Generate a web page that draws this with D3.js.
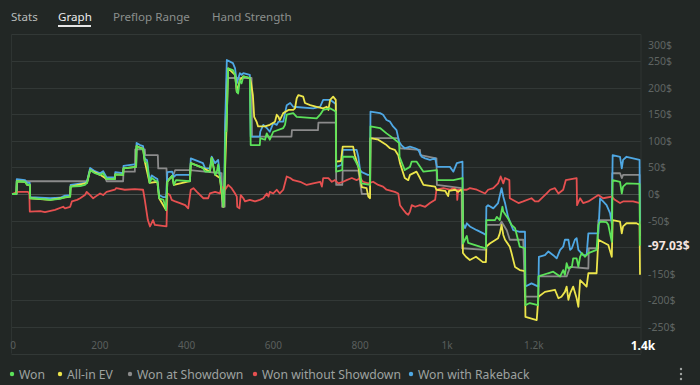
<!DOCTYPE html>
<html>
<head>
<meta charset="utf-8">
<script src="https://cdn.jsdelivr.net/npm/d3@7"></script>
<style>
  html, body { margin: 0; padding: 0; background: #222725; }
  svg { display: block; font-family: "Segoe UI", "Noto Sans", "Liberation Sans", sans-serif; }
</style>
</head>
<body>
<div id="chart"></div>
<script>
// [hand, $] pairs
const wonData = [[0,0],[10,0],[11,24],[30,23],[35,17],[41,17],[42,-8],[65,-9],[88,-11],[111,-9],[122,-6],[134,-5],[135,14],[157,15],[168,17],[173,21],[180,45],[191,39],[203,36],[210,39],[218,28],[237,28],[238,37],[256,36],[257,48],[286,51],[287,90],[295,86],[302,85],[306,61],[311,59],[317,21],[322,30],[329,26],[335,23],[339,-8],[349,-11],[355,-30],[358,23],[369,34],[373,17],[378,26],[410,24],[412,58],[440,49],[445,42],[456,42],[460,68],[468,36],[472,42],[475,55],[479,30],[484,2],[487,-24],[489,0],[492,118],[494,118],[498,236],[509,233],[514,224],[518,192],[521,189],[525,214],[529,208],[533,221],[548,218],[550,92],[571,92],[572,105],[583,102],[587,114],[594,102],[602,117],[625,124],[629,130],[633,149],[648,152],[656,145],[702,142],[710,149],[717,158],[733,161],[740,158],[746,155],[747,42],[761,45],[762,70],[786,70],[790,64],[802,45],[805,20],[825,17],[826,127],[848,124],[863,114],[878,105],[892,96],[893,70],[905,45],[917,51],[921,61],[932,61],[948,42],[979,45],[980,26],[1017,26],[1038,30],[1039,-93],[1048,-79],[1051,-92],[1078,-99],[1092,-102],[1093,-49],[1113,-49],[1117,-43],[1124,-49],[1130,-24],[1132,-33],[1143,-46],[1151,-58],[1159,-64],[1170,-99],[1182,-102],[1183,-209],[1193,-205],[1212,-209],[1213,-155],[1235,-149],[1247,-146],[1263,-155],[1270,-143],[1274,-152],[1278,-130],[1282,-140],[1290,-137],[1293,-121],[1301,-121],[1305,-137],[1309,-118],[1313,-111],[1320,-118],[1328,-111],[1347,-105],[1351,-58],[1355,-52],[1370,-53],[1374,-58],[1382,-90],[1384,26],[1401,23],[1405,1],[1408,14],[1416,20],[1446,19],[1447,-97.03]];

const allInEvData = [[0,0],[10,0],[11,24],[30,23],[35,17],[41,17],[42,-8],[88,-11],[134,-5],[135,14],[173,21],[180,45],[203,36],[218,28],[237,28],[238,37],[256,36],[257,48],[286,51],[287,90],[302,85],[306,61],[317,21],[335,23],[339,-8],[355,-30],[358,23],[369,34],[373,17],[410,24],[412,58],[440,49],[456,42],[460,68],[468,36],[479,30],[487,-24],[489,0],[494,118],[498,236],[514,224],[518,192],[525,214],[533,221],[548,218],[551,208],[555,186],[558,145],[564,135],[567,127],[583,127],[594,130],[606,136],[610,149],[614,145],[617,139],[625,152],[637,158],[648,158],[652,161],[656,180],[660,186],[671,183],[675,171],[687,167],[702,164],[717,161],[725,164],[729,158],[733,177],[740,183],[746,177],[747,61],[758,62],[762,89],[786,89],[790,73],[798,51],[806,13],[817,11],[821,-5],[825,-8],[826,105],[844,102],[863,92],[871,86],[882,83],[890,73],[894,58],[898,48],[905,30],[913,26],[917,36],[932,42],[940,30],[948,17],[975,14],[978,8],[998,6],[1005,-4],[1007,6],[1021,8],[1028,4],[1035,8],[1038,2],[1039,-111],[1046,-118],[1055,-124],[1069,-118],[1085,-128],[1092,-128],[1093,-99],[1101,-93],[1120,-83],[1124,-74],[1128,-58],[1132,-77],[1136,-86],[1147,-99],[1151,-111],[1159,-137],[1170,-143],[1182,-145],[1183,-231],[1209,-237],[1213,-193],[1228,-184],[1251,-180],[1259,-196],[1266,-193],[1274,-184],[1278,-174],[1282,-199],[1286,-187],[1293,-174],[1301,-196],[1305,-212],[1309,-162],[1324,-174],[1328,-149],[1347,-149],[1351,-86],[1374,-96],[1382,-118],[1384,-49],[1401,-52],[1405,-74],[1408,-61],[1416,-55],[1439,-55],[1446,-58],[1447,-152]];

const showdownData = [[0,0],[11,0],[12,24],[173,24],[180,45],[191,41],[203,36],[210,41],[218,24],[256,24],[257,42],[283,42],[284,84],[306,84],[307,73],[336,73],[337,48],[356,48],[357,26],[371,34],[376,45],[410,45],[456,41],[483,39],[484,-24],[490,-24],[491,111],[495,218],[552,218],[553,108],[644,108],[645,120],[705,120],[706,134],[746,134],[747,17],[761,17],[762,44],[798,44],[806,0],[825,0],[826,105],[890,105],[894,86],[940,83],[941,73],[978,67],[979,17],[1036,11],[1037,-102],[1092,-105],[1093,-58],[1124,-58],[1128,-52],[1140,-68],[1147,-86],[1178,-86],[1182,-193],[1213,-193],[1214,-155],[1278,-155],[1286,-137],[1328,-140],[1329,-102],[1350,-102],[1351,-49],[1382,-49],[1383,39],[1401,39],[1405,30],[1408,36],[1446,36],[1447,-79]];

const noShowdownData = [[0,0],[7,2],[10,4],[37,4],[40,0],[41,-33],[65,-32],[76,-34],[99,-30],[118,-24],[122,-27],[134,-24],[138,-14],[150,-11],[157,-8],[168,-2],[172,4],[180,-2],[187,-8],[194,-4],[203,1],[210,-2],[218,4],[237,8],[240,11],[260,8],[283,9],[302,8],[306,-11],[313,-49],[318,-61],[325,-49],[329,-58],[356,-61],[358,1],[364,-2],[368,-11],[376,-14],[387,-17],[399,-21],[406,-27],[412,8],[418,11],[426,4],[441,-8],[452,-8],[456,1],[468,4],[479,1],[483,14],[491,8],[498,17],[506,11],[514,1],[518,-5],[519,-24],[524,-27],[527,-2],[533,-8],[537,-14],[548,-11],[560,-14],[571,-11],[579,-8],[587,1],[591,-5],[594,4],[602,1],[610,8],[617,1],[625,8],[633,33],[641,30],[648,26],[664,23],[679,17],[694,20],[710,23],[714,14],[717,30],[729,30],[737,23],[744,26],[752,20],[763,23],[771,26],[783,30],[794,26],[802,30],[809,23],[821,20],[832,23],[844,17],[855,14],[863,8],[882,4],[890,1],[894,-21],[902,-30],[908,-36],[913,-39],[917,-33],[921,-21],[929,-24],[940,-21],[952,-24],[963,-17],[975,-11],[978,8],[994,11],[1009,8],[1017,11],[1025,8],[1026,-11],[1028,8],[1048,8],[1055,11],[1071,8],[1090,1],[1097,8],[1109,11],[1120,20],[1126,33],[1132,20],[1136,30],[1146,26],[1147,-8],[1167,-17],[1178,-14],[1197,-8],[1205,-14],[1213,-14],[1232,1],[1240,8],[1251,11],[1259,1],[1270,8],[1276,26],[1301,30],[1302,-21],[1309,-8],[1316,-17],[1328,-14],[1351,-2],[1362,-8],[1382,-5],[1389,-11],[1401,-17],[1408,-14],[1431,-14],[1447,-17]];

const rakebackData = [[0,0],[10,0],[11,28],[30,26],[35,21],[41,21],[42,-6],[65,-7],[88,-8],[111,-7],[122,-3],[134,-2],[135,17],[168,21],[173,24],[180,49],[191,43],[203,39],[210,43],[218,31],[237,31],[238,41],[256,39],[257,53],[286,56],[287,96],[295,92],[302,90],[306,66],[311,64],[317,25],[322,35],[329,31],[335,28],[339,-2],[349,-6],[355,-6],[358,41],[369,42],[373,32],[378,36],[410,36],[412,67],[440,58],[445,48],[456,48],[460,70],[468,58],[475,64],[479,36],[483,8],[487,-17],[489,8],[491,127],[495,252],[509,246],[514,236],[518,208],[525,227],[529,224],[533,227],[548,224],[550,108],[571,108],[572,117],[579,130],[587,124],[594,117],[602,133],[610,130],[614,136],[625,136],[633,167],[641,171],[648,164],[694,161],[710,164],[717,177],[733,177],[746,169],[747,51],[760,55],[762,83],[794,83],[798,70],[802,45],[806,41],[820,36],[825,36],[826,155],[848,152],[855,149],[863,139],[871,136],[878,127],[886,120],[892,98],[897,92],[905,86],[917,89],[929,86],[936,83],[944,70],[952,67],[963,64],[975,67],[979,51],[1009,51],[1017,42],[1025,58],[1038,61],[1039,-55],[1044,-64],[1048,-55],[1055,-61],[1071,-68],[1086,-74],[1092,-77],[1093,-24],[1097,-21],[1109,-27],[1120,-17],[1128,11],[1132,-5],[1136,-17],[1143,-43],[1155,-68],[1170,-71],[1182,-71],[1183,-174],[1197,-168],[1213,-174],[1214,-118],[1228,-115],[1236,-108],[1247,-115],[1255,-121],[1263,-105],[1270,-99],[1274,-86],[1282,-86],[1286,-105],[1290,-102],[1297,-86],[1301,-83],[1305,-105],[1316,-115],[1324,-115],[1328,-74],[1351,-74],[1355,-8],[1362,-14],[1370,-21],[1378,-36],[1382,-55],[1384,73],[1401,70],[1405,48],[1408,64],[1416,70],[1431,67],[1446,64],[1447,-51]];

const tabNames = ["Stats", "Graph", "Preflop Range", "Hand Strength"];
const legendNames = ["Won", "All-in EV", "Won at Showdown", "Won without Showdown", "Won with Rakeback"];
const xTickValues = [0, 200, 400, 600, 800, 1000, 1200];
const yTickValues = [300, 250, 200, 150, 100, 50, 0, -50, -150, -200, -250];
const gridValues = [300, 250, 200, 150, 100, 50, 0, -50, -100, -150, -200, -250, -300];
const lastHand = 1447;
const lastWon = -97.03;

const width = 700, height = 385;
const colors = { won: "#5ce25a", ev: "#ece54b", sd: "#8b8b8b", nsd: "#e65050", rb: "#4fa8e4" };

const svg = d3.select("#chart").append("svg")
    .attr("width", width)
    .attr("height", height);

svg.append("rect").attr("width", width).attr("height", height).attr("fill", "#222725");

// tabs
const tabX = [11, 58, 113, 212];
svg.selectAll(".tab")
    .data(tabNames)
    .enter()
    .append("text")
    .attr("x", (d, i) => tabX[i])
    .attr("y", 21)
    .attr("font-size", 11.6)
    .attr("fill", (d, i) => i == 1 ? "#ececec" : (i == 0 ? "#b9bcbb" : "#8b8f8d"))
    .text(d => d);
svg.append("rect").attr("x", 58).attr("y", 25).attr("width", 33).attr("height", 2).attr("fill", "#e6e6e6");

// scales
const x = d3.scaleLinear().domain([0, lastHand]).range([12, 640]);
const y = d3.scaleLinear().domain([-300, 300]).range([353.6, 34.4]);

// grid
const grid = svg.append("g");
grid.selectAll("line")
    .data(gridValues)
    .enter()
    .append("line")
    .attr("x1", 11.5).attr("x2", 641)
    .attr("y1", d => Math.round(y(d)) + 0.5)
    .attr("y2", d => Math.round(y(d)) + 0.5)
    .attr("stroke", d => d == 0 ? "#4a504d" : "#323836")
    .attr("stroke-width", 1);
grid.append("line").attr("x1", 11.5).attr("x2", 11.5).attr("y1", y(300)).attr("y2", y(-300)).attr("stroke", "#2e3432");
grid.append("line").attr("x1", 641).attr("x2", 641).attr("y1", y(300)).attr("y2", y(-300)).attr("stroke", "#2e3432");

// y labels
svg.append("g").selectAll("text")
    .data(yTickValues)
    .enter()
    .append("text")
    .attr("x", 648)
    .attr("y", d => Math.max(y(d), 45) + 4)
    .attr("font-size", 10.5)
    .attr("fill", "#5f6462")
    .text(d => d + "$");
svg.append("text")
    .attr("x", 648)
    .attr("y", y(lastWon) + 4.5)
    .attr("font-size", 12)
    .attr("font-weight", "bold")
    .attr("fill", "#f4e4e0")
    .text(lastWon.toFixed(2) + "$");

// x labels
svg.append("g").selectAll("text")
    .data(xTickValues)
    .enter()
    .append("text")
    .attr("x", d => x(d) + 1)
    .attr("y", 349)
    .attr("text-anchor", "middle")
    .attr("font-size", 10)
    .attr("fill", "#5a5f5d")
    .text(d => d3.format("~s")(d));
svg.append("text")
    .attr("x", x(lastHand) + 3)
    .attr("y", 350)
    .attr("text-anchor", "middle")
    .attr("font-size", 12)
    .attr("font-weight", "bold")
    .attr("fill", "#ffffff")
    .text((Math.floor(lastHand / 100) / 10) + "k");

// lines
const line = d3.line().x(d => x(d[0])).y(d => y(d[1]));
const series = [
    [showdownData, colors.sd],
    [rakebackData, colors.rb],
    [noShowdownData, colors.nsd],
    [allInEvData, colors.ev],
    [wonData, colors.won]
];
svg.append("g").selectAll("path")
    .data(series)
    .enter()
    .append("path")
    .attr("d", d => line(d[0]))
    .attr("fill", "none")
    .attr("stroke", d => d[1])
    .attr("stroke-width", 1.8)
    .attr("stroke-linejoin", "round");

// legend
const legendX = [12, 60, 130, 255, 411];
const legendColors = [colors.won, colors.ev, colors.sd, colors.nsd, colors.rb];
const leg = svg.append("g").selectAll("g")
    .data(legendNames)
    .enter()
    .append("g")
    .attr("transform", (d, i) => `translate(${legendX[i]},374)`);
leg.append("circle").attr("r", 2.2).attr("fill", (d, i) => legendColors[i]);
leg.append("text")
    .attr("x", 7)
    .attr("y", 4.5)
    .attr("font-size", 12.2)
    .attr("fill", "#9ea2a0")
    .text(d => d);

// menu dots
svg.append("g").selectAll("circle")
    .data([0, 1, 2])
    .enter()
    .append("circle")
    .attr("cx", 681)
    .attr("cy", d => 369 + d * 5)
    .attr("r", 1.2)
    .attr("fill", "#a0a4a2");
</script>
</body>
</html>
